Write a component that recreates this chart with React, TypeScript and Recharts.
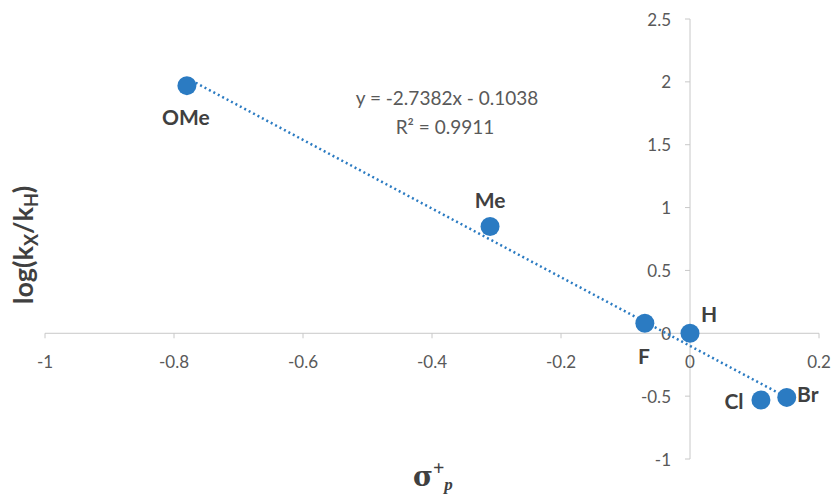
import React from 'react';
import { ScatterChart, Scatter, XAxis, YAxis, ReferenceLine, ReferenceDot } from 'recharts';

const names = ['OMe', 'Me', 'F', 'H', 'Cl', 'Br'];
const sigmaPlus = [-0.78, -0.31, -0.07, 0, 0.11, 0.15];
const logRatio = [1.97, 0.85, 0.08, 0, -0.53, -0.51];
const trendSigma = [-0.78, 0.15];
const trendLog = [2.03, -0.51];
const xTicks = [-1, -0.8, -0.6, -0.4, -0.2, 0, 0.2];
const xTickLabels = ['-1', '-0.8', '-0.6', '-0.4', '-0.2', '0', '0.2'];
const yTicks = [-1, -0.5, 0, 0.5, 1, 1.5, 2, 2.5];
const yTickLabels = ['-1', '-0.5', '0', '0.5', '1', '1.5', '2', '2.5'];
const equationText = 'y = -2.7382x - 0.1038';
const r2Text = 'R² = 0.9911';

const points = names.map((n, i) => ({ name: n, x: sigmaPlus[i], y: logRatio[i] }));
const trend = trendSigma.map((x, i) => ({ x, y: trendLog[i] }));

// label placement (style only)
const labelOffset: Record<string, [number, number]> = {
  OMe: [-1, 31],
  Me: [0, -27],
  F: [-1, 32],
  H: [19, -20],
  Cl: [-27, 1],
  Br: [21, -4],
};

const BLUE = '#2B7BC2';
const AXIS = '#C8C8C8';
const TICK_TEXT = '#595959';
const LABEL_TEXT = '#404040';
const FONT = 'Lato, "Liberation Sans", sans-serif';

const PointShape = (props: any) => {
  const { cx, cy, payload } = props;
  const name = payload?.name ?? '';
  const off = labelOffset[name] || [0, 0];
  return (
    <g>
      <circle cx={cx} cy={cy} r={9.5} fill={BLUE} />
      <text
        x={cx + off[0]}
        y={cy + off[1]}
        textAnchor="middle"
        dominantBaseline="central"
        fontFamily={FONT}
        fontWeight="bold"
        fontSize={21}
        fill={LABEL_TEXT}
      >
        {name}
      </text>
    </g>
  );
};

const makeXTick = (label: string) => (props: any) => {
  const { cx, cy } = props;
  return (
    <g>
      <line x1={cx} y1={cy} x2={cx} y2={cy + 5} stroke={AXIS} strokeWidth={1} />
      <text x={cx} y={cy + 28} textAnchor="middle" dominantBaseline="central" fontFamily={FONT} fontSize={17} fill={TICK_TEXT}>
        {label}
      </text>
    </g>
  );
};

const makeYTick = (label: string) => (props: any) => {
  const { cx, cy } = props;
  return (
    <g>
      <line x1={cx - 5} y1={cy} x2={cx} y2={cy} stroke={AXIS} strokeWidth={1} />
      <text x={cx - 19} y={cy} textAnchor="end" dominantBaseline="central" fontFamily={FONT} fontSize={17} fill={TICK_TEXT}>
        {label}
      </text>
    </g>
  );
};

const EmptyShape = () => <g />;

export default function App() {
  return (
    <div style={{ position: 'relative', width: 834, height: 497, background: '#fff' }}>
      <style>{'body{margin:0;}'}</style>
      <ScatterChart width={834} height={497} margin={{ top: 19, right: 15, bottom: 38, left: 45 }}>
        <XAxis type="number" dataKey="x" domain={[-1, 0.2]} hide />
        <YAxis type="number" dataKey="y" domain={[-1, 2.5]} hide />
        <ReferenceLine x={0} stroke={AXIS} strokeWidth={1} />
        <ReferenceLine y={0} stroke={AXIS} strokeWidth={1} />
        {xTicks.map((v, i) => (
          <ReferenceDot key={'xt' + i} x={v} y={0} r={0} shape={makeXTick(xTickLabels[i])} />
        ))}
        {yTicks.map((v, i) => (
          <ReferenceDot key={'yt' + i} x={0} y={v} r={0} shape={makeYTick(yTickLabels[i])} />
        ))}
        <Scatter
          data={trend}
          line={{ stroke: BLUE, strokeWidth: 2.5, strokeDasharray: '2 3' }}
          shape={EmptyShape}
          isAnimationActive={false}
        />
        <Scatter data={points} fill={BLUE} shape={PointShape} isAnimationActive={false} />
      </ScatterChart>
      <svg width={834} height={497} style={{ position: 'absolute', left: 0, top: 0, pointerEvents: 'none' }}>
        <text x={447} y={105} textAnchor="middle" fontFamily={FONT} fontSize={19} fill={TICK_TEXT}>
          {equationText}
        </text>
        <text x={445} y={134} textAnchor="middle" fontFamily={FONT} fontSize={19} fill={TICK_TEXT}>
          {r2Text}
        </text>
        <text
          transform="translate(33,245) rotate(-90)"
          textAnchor="middle"
          fontFamily={FONT}
          fontWeight="bold"
          fontSize={27}
          fill={LABEL_TEXT}
        >
          log(k
          <tspan fontSize={18} dy={5}>X</tspan>
          <tspan dy={-5}>/k</tspan>
          <tspan fontSize={18} dy={5}>H</tspan>
          <tspan dy={-5}>)</tspan>
        </text>
        <text x={413} y={486} fontFamily='"DejaVu Serif", serif' fontWeight="bold" fontSize={27} fill={LABEL_TEXT}>
          σ
          <tspan fontFamily='"Liberation Serif", serif' fontSize={20} dy={-11}>+</tspan>
          <tspan fontFamily='"Liberation Serif", serif' fontStyle="italic" fontWeight="bold" fontSize={17} dx={0} dy={15}>p</tspan>
        </text>
      </svg>
    </div>
  );
}
